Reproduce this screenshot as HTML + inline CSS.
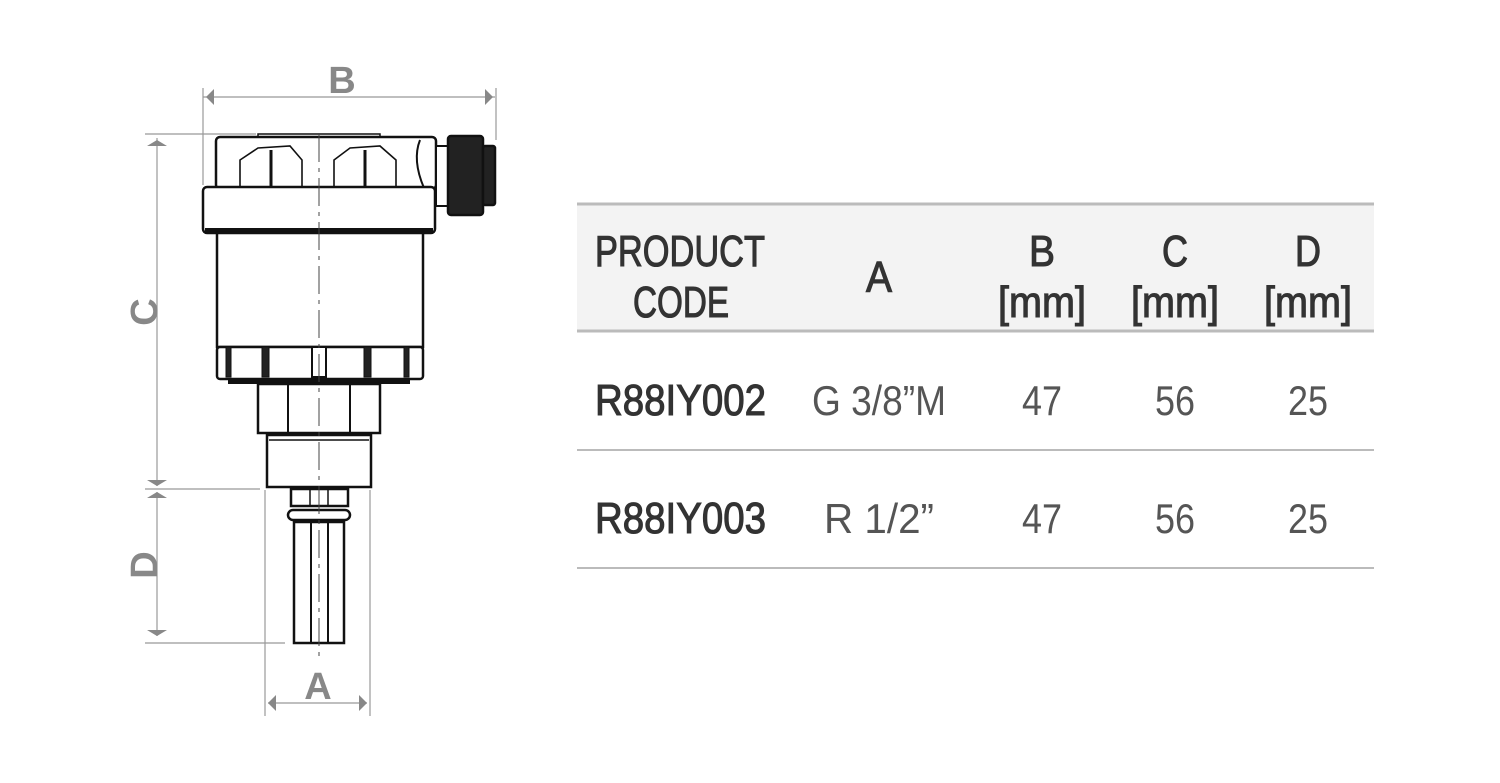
<!DOCTYPE html>
<html><head><meta charset="utf-8"><style>
html,body{margin:0;padding:0;background:#fff;width:1500px;height:783px;overflow:hidden}
svg{display:block}
text{font-family:"Liberation Sans",sans-serif}
</style></head><body>
<svg width="1500" height="783" viewBox="0 0 1500 783" xmlns="http://www.w3.org/2000/svg">
<g stroke="#999" stroke-width="1.2" fill="none">
<line x1="203" y1="88" x2="203" y2="185"/>
<line x1="496" y1="88" x2="496" y2="140"/>
<line x1="203" y1="97" x2="495" y2="97"/>
<line x1="145" y1="134" x2="256" y2="134"/>
<line x1="157" y1="138" x2="157" y2="486"/>
<line x1="145" y1="489" x2="260" y2="489"/>
<line x1="157" y1="492" x2="157" y2="636"/>
<line x1="145" y1="643" x2="285" y2="643"/>
<line x1="265" y1="490" x2="265" y2="716"/>
<line x1="370" y1="490" x2="370" y2="716"/>
<line x1="268" y1="703" x2="367" y2="703"/>
</g>
<g fill="#888">
<polygon points="206,97 214,89 214,105"/>
<polygon points="493,97 485,89 485,105"/>
<polygon points="157,140 147,146 167,146"/>
<polygon points="157,486 147,480 167,480"/>
<polygon points="157,492 147,498 167,498"/>
<polygon points="157,636 147,630 167,630"/>
<polygon points="268,703 276,695 276,711"/>
<polygon points="367,703 359,695 359,711"/>
</g>
<g fill="#888" font-weight="bold" font-size="38">
<text x="342" y="93" text-anchor="middle">B</text>
<text x="318" y="699" text-anchor="middle">A</text>
<text transform="translate(157,312) rotate(-90)" text-anchor="middle">C</text>
<text transform="translate(157,565) rotate(-90)" text-anchor="middle">D</text>
</g>
<g stroke="#111" stroke-width="2.5" fill="#fff">
<rect x="258" y="134" width="122" height="4" stroke-width="1.5"/>
<rect x="216" y="137" width="220" height="52" rx="4"/>
<path d="M240 188 L240 160 L258 148 L290 146 L302 160 L302 188 M334 188 L334 160 L350 148 L380 146 L396 160 L396 188" fill="none" stroke-width="1.6"/>
<line x1="271" y1="150" x2="271" y2="188" stroke-width="3"/>
<line x1="365" y1="150" x2="365" y2="188" stroke-width="3"/>
<path d="M420 140 Q412 160 424 188" fill="none" stroke-width="2"/>
<rect x="436" y="146" width="12" height="60" stroke-width="2"/>
<rect x="448" y="136" width="35" height="79" rx="3" fill="#222"/>
<rect x="483" y="146" width="12" height="59" rx="2" fill="#222"/>
<rect x="203" y="187" width="232" height="46" rx="4"/>
<line x1="205" y1="230" x2="433" y2="230" stroke-width="4"/>
<rect x="217" y="233" width="206" height="114"/>
<rect x="217" y="347" width="206" height="32" rx="3"/>
<line x1="228" y1="382" x2="410" y2="382" stroke-width="4"/>
<rect x="226" y="347" width="5" height="30" fill="#222" stroke-width="1"/>
<rect x="262" y="347" width="7" height="30" fill="#222" stroke-width="1"/>
<rect x="312" y="347" width="14" height="30" fill="#fff" stroke-width="2"/>
<rect x="364" y="347" width="7" height="30" fill="#222" stroke-width="1"/>
<rect x="404" y="347" width="5" height="30" fill="#222" stroke-width="1"/>
<rect x="258" y="384" width="122" height="49"/>
<line x1="288" y1="384" x2="288" y2="433" stroke-width="2"/>
<line x1="350" y1="384" x2="350" y2="433" stroke-width="2"/>
<rect x="267" y="435" width="104" height="52"/>
<line x1="269" y1="440" x2="369" y2="440" stroke-width="1.5"/>
<rect x="291" y="489" width="57" height="17"/>
<line x1="310" y1="489" x2="310" y2="506" stroke-width="1.5"/>
<line x1="328" y1="489" x2="328" y2="506" stroke-width="1.5"/>
<rect x="288" y="510" width="62" height="10" rx="5"/>
<rect x="294" y="522" width="50" height="121"/>
<line x1="311" y1="522" x2="311" y2="643" stroke-width="2"/>
<line x1="328" y1="522" x2="328" y2="643" stroke-width="2"/>
</g>
<line x1="319" y1="134" x2="319" y2="660" stroke="#444" stroke-width="1" stroke-dasharray="28,6,4,6"/>
<rect x="577" y="205" width="797" height="125" fill="#f3f3f3"/>
<g stroke="#bbb" stroke-width="3">
<line x1="577" y1="204" x2="1374" y2="204"/>
<line x1="577" y1="331" x2="1374" y2="331"/>
<line x1="577" y1="450" x2="1374" y2="450" stroke-width="2"/>
<line x1="577" y1="568" x2="1374" y2="568" stroke-width="2"/>
</g>
<g fill="#333" stroke="#333" stroke-width="1.1" font-size="44">
<text x="595" y="266" textLength="170" lengthAdjust="spacingAndGlyphs">PRODUCT</text>
<text x="633" y="317" textLength="96" lengthAdjust="spacingAndGlyphs">CODE</text>
<text x="879" y="292" text-anchor="middle" textLength="26" lengthAdjust="spacingAndGlyphs">A</text>
<text x="1042" y="266" text-anchor="middle" textLength="26" lengthAdjust="spacingAndGlyphs">B</text>
<text x="1042" y="317" text-anchor="middle" textLength="88" lengthAdjust="spacingAndGlyphs">[mm]</text>
<text x="1175" y="266" text-anchor="middle" textLength="26" lengthAdjust="spacingAndGlyphs">C</text>
<text x="1175" y="317" text-anchor="middle" textLength="88" lengthAdjust="spacingAndGlyphs">[mm]</text>
<text x="1308" y="266" text-anchor="middle" textLength="26" lengthAdjust="spacingAndGlyphs">D</text>
<text x="1308" y="317" text-anchor="middle" textLength="88" lengthAdjust="spacingAndGlyphs">[mm]</text>
<text x="595" y="415" textLength="171" lengthAdjust="spacingAndGlyphs">R88IY002</text>
<text x="595" y="533" textLength="171" lengthAdjust="spacingAndGlyphs">R88IY003</text>
</g>
<g fill="#555" font-size="42">
<text x="879" y="415" text-anchor="middle" textLength="134" lengthAdjust="spacingAndGlyphs">G 3/8”M</text>
<text x="879" y="533" text-anchor="middle" textLength="110" lengthAdjust="spacingAndGlyphs">R 1/2”</text>
<text x="1042" y="415" text-anchor="middle" textLength="40" lengthAdjust="spacingAndGlyphs">47</text>
<text x="1175" y="415" text-anchor="middle" textLength="40" lengthAdjust="spacingAndGlyphs">56</text>
<text x="1308" y="415" text-anchor="middle" textLength="40" lengthAdjust="spacingAndGlyphs">25</text>
<text x="1042" y="533" text-anchor="middle" textLength="40" lengthAdjust="spacingAndGlyphs">47</text>
<text x="1175" y="533" text-anchor="middle" textLength="40" lengthAdjust="spacingAndGlyphs">56</text>
<text x="1308" y="533" text-anchor="middle" textLength="40" lengthAdjust="spacingAndGlyphs">25</text>
</g>
</svg>
</body></html>
